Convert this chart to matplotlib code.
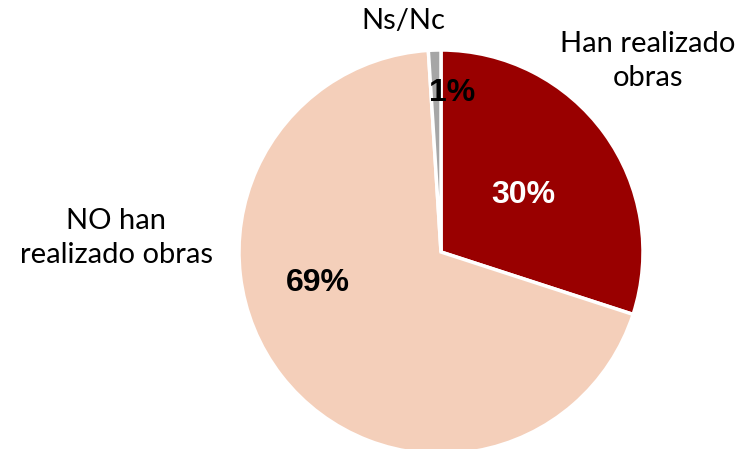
import matplotlib
matplotlib.use("Agg")
import matplotlib.pyplot as plt

categories = ["Han realizado\nobras", "NO han\nrealizado obras", "Ns/Nc"]
values = [30, 69, 1]
pct_labels = ["30%", "69%", "1%"]
colors = ["#990000", "#F4CFBA", "#A6A6A6"]
pct_colors = ["white", "black", "black"]

W, H = 741, 449
fig = plt.figure(figsize=(W / 100, H / 100), dpi=100)
ax = fig.add_axes([0, 0, 1, 1])

cx, cy, r = 441, H - 252, 202
ax.pie(values, colors=colors, startangle=90, counterclock=False,
       center=(cx, cy), radius=r, frame=True,
       wedgeprops=dict(edgecolor="white", linewidth=2.5))
ax.set_xlim(0, W)
ax.set_ylim(0, H)
ax.set_aspect("equal")
ax.axis("off")

# category labels (pixel positions from top-left)
cat_pos = [(648, 61), (116, 238), (403, 21)]
for lab, (x, y) in zip(categories, cat_pos):
    ax.text(x, H - y, lab, ha="center", va="center", fontsize=21,
            family="Lato", linespacing=1.35, color="black")

pct_pos = [(523, 195), (318, 283), (452, 93)]
for lab, (x, y), c in zip(pct_labels, pct_pos, pct_colors):
    ax.text(x, H - y, lab, ha="center", va="center", fontsize=23,
            family="Liberation Sans", fontweight="bold", color=c)

fig.savefig("out.png", dpi=100)
